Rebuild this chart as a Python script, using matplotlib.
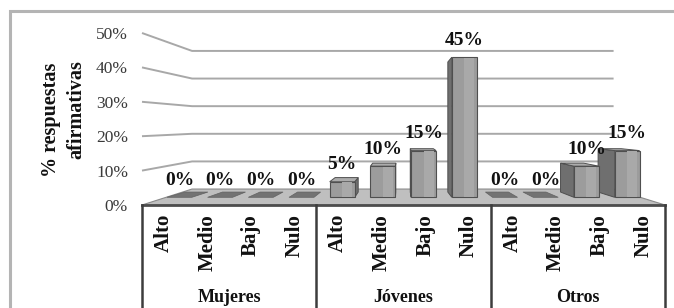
import matplotlib
matplotlib.use('Agg')
import matplotlib.pyplot as plt
from matplotlib.patches import Polygon, Rectangle

# ---------------- data ----------------
groups = ['Mujeres', 'Jóvenes', 'Otros']
levels = ['Alto', 'Medio', 'Bajo', 'Nulo']
mujeres = [0, 0, 0, 0]
jovenes = [5, 10, 15, 45]
otros = [0, 0, 10, 15]
yticks = [0, 10, 20, 30, 40, 50]
ytick_labels = ['0%', '10%', '20%', '30%', '40%', '50%']
ylabel_lines = ['% respuestas', 'afirmativas']

values = mujeres + jovenes + otros
cats = levels * len(groups)
n = len(values)

FONT = ['Liberation Serif', 'DejaVu Serif']
plt.rcParams['font.family'] = FONT

W, H = 674, 308
fig = plt.figure(figsize=(W / 100, H / 100), dpi=100)
fig.patch.set_facecolor('white')

# front plane axes: x -0.5..n-0.5, y 0..50
x_left, x_right, y_zero, y_top = 142, 665, 205, 33
ax = fig.add_axes([x_left / W, (H - y_zero) / H, (x_right - x_left) / W, (y_zero - y_top) / H])
ax.set_xlim(-0.5, n - 0.5)
ax.set_ylim(0, 50)
ax.axis('off')

px_per_x = (x_right - x_left) / n
px_per_y = (y_zero - y_top) / 50.0

# vanishing point (data units)
VX = (400 - x_left) / px_per_x - 0.5
VY = (y_zero - 124) / px_per_y

# depth factors
BX, BY = 0.806, 0.803      # back wall
FXF, FYF = 0.934, 0.905    # bar front face
FXB, FYB = 0.862, 0.84     # bar back face


def P(x, y, fx, fy):
    return (VX + (x - VX) * fx, VY + (y - VY) * fy)


grid_c = '#a8a8a8'
# walls gridlines
for v in yticks[1:]:
    a = P(-0.5, v, 1, 1)
    b = P(-0.5, v, BX, BY)
    c = P(n - 0.5, v, BX, BY)
    ax.plot([a[0], b[0], c[0]], [a[1], b[1], c[1]], color=grid_c, lw=1.4,
            zorder=0.5, clip_on=False, solid_capstyle='butt')

# floor
floor = [P(-0.5, 0, 1, 1), P(n - 0.5, 0, 1, 1), P(n - 0.5, 0, BX, BY), P(-0.5, 0, BX, BY)]
ax.add_patch(Polygon(floor, closed=True, facecolor='#bfbfbf', edgecolor='#8a8a8a',
                     lw=0.8, zorder=1, clip_on=False))
ax.plot([-0.5, n - 0.5], [0, 0], color='#4d4d4d', lw=2.0, zorder=1.5, clip_on=False)

# bars
hw = 0.307
front_c, side_c, top_c, edge_c, tile_c = '#9c9c9c', '#6f6f6f', '#acacac', '#4f4f4f', '#737373'
lefts, widths, bottoms, heights, centers = [], [], [], [], []
for i, v in enumerate(values):
    x0, x1 = i - hw, i + hw
    if v == 0:
        tile = [P(x0, 0, FXF, FYF), P(x1, 0, FXF, FYF), P(x1, 0, FXB, FYB), P(x0, 0, FXB, FYB)]
        ax.add_patch(Polygon(tile, closed=True, facecolor=tile_c, edgecolor='#626262',
                             lw=0.5, zorder=2, clip_on=False))
    else:
        if x0 > VX:
            side = [P(x0, 0, FXF, FYF), P(x0, v, FXF, FYF), P(x0, v, FXB, FYB), P(x0, 0, FXB, FYB)]
            ax.add_patch(Polygon(side, closed=True, facecolor=side_c, edgecolor=edge_c,
                                 lw=0.7, zorder=2, clip_on=False))
        if x1 < VX:
            side = [P(x1, 0, FXF, FYF), P(x1, v, FXF, FYF), P(x1, v, FXB, FYB), P(x1, 0, FXB, FYB)]
            ax.add_patch(Polygon(side, closed=True, facecolor=side_c, edgecolor=edge_c,
                                 lw=0.7, zorder=2, clip_on=False))
        if v < VY:
            top = [P(x0, v, FXF, FYF), P(x1, v, FXF, FYF), P(x1, v, FXB, FYB), P(x0, v, FXB, FYB)]
            ax.add_patch(Polygon(top, closed=True, facecolor=top_c, edgecolor=edge_c,
                                 lw=0.7, zorder=2, clip_on=False))
    bl = P(x0, 0, FXF, FYF)
    tr = P(x1, v, FXF, FYF)
    lefts.append(bl[0])
    widths.append(tr[0] - bl[0])
    bottoms.append(bl[1])
    heights.append(tr[1] - bl[1])
    centers.append((bl[0] + tr[0]) / 2)

nz = [i for i, v in enumerate(values) if v > 0]
ax.bar([centers[i] for i in nz], [heights[i] for i in nz], width=[widths[i] for i in nz],
       bottom=[bottoms[i] for i in nz], color=front_c, edgecolor=edge_c, lw=0.8,
       zorder=3, clip_on=False)
# subtle highlight strip on the front face
ax.bar([centers[i] + widths[i] * 0.2 for i in nz], [heights[i] - 0.4 for i in nz],
       width=[widths[i] * 0.4 for i in nz], bottom=[bottoms[i] + 0.2 for i in nz],
       color='#a9a9a9', lw=0, zorder=3.1, clip_on=False)

# data labels
for i, v in enumerate(values):
    tx, ty = P(i, v, FXF, FYF)
    ax.annotate(f'{v}%', xy=(tx, ty), xytext=(0, 6), textcoords='offset points',
                ha='center', va='bottom', fontsize=14, fontweight='bold', color='#111111',
                zorder=6, annotation_clip=False)

# y tick labels
for v, lab in zip(yticks, ytick_labels):
    ax.annotate(lab, xy=(-0.5, v), xytext=(-10, -1.5), textcoords='offset points',
                ha='right', va='center', fontsize=12.5, color='#3a3a3a', annotation_clip=False)

# y title
fig.text(51 / W, 1 - 120 / H, ylabel_lines[0], rotation=90, ha='center', va='center',
         fontsize=14.5, fontweight='bold', color='#111111')
fig.text(76 / W, 1 - 110 / H, ylabel_lines[1], rotation=90, ha='center', va='center',
         fontsize=14.5, fontweight='bold', color='#111111')

# category box
y_bottom = -35
line_c = '#3d3d3d'
for k in range(len(groups) + 1):
    xb = -0.5 + 4 * k
    ax.plot([xb, xb], [0, y_bottom], color=line_c, lw=1.8, clip_on=False, zorder=4)

for i, c in enumerate(cats):
    ax.text(i, -(214 - y_zero) / px_per_y, c, rotation=90, ha='center', va='top',
            fontsize=15, fontweight='bold', color='#111111', clip_on=False)

for g, name in enumerate(groups):
    ax.text(4 * g + 1.5, -(297 - y_zero) / px_per_y, name, ha='center', va='center',
            fontsize=13, fontweight='bold', color='#111111', clip_on=False)

# outer chart border
fig.patches.append(Rectangle((10 / W, -0.2), 1.2, 1.2 - 11 / H, transform=fig.transFigure,
                             fill=False, edgecolor='#b4b4b4', lw=2.2, zorder=0))

fig.savefig('out.png', dpi=100, facecolor='white')
